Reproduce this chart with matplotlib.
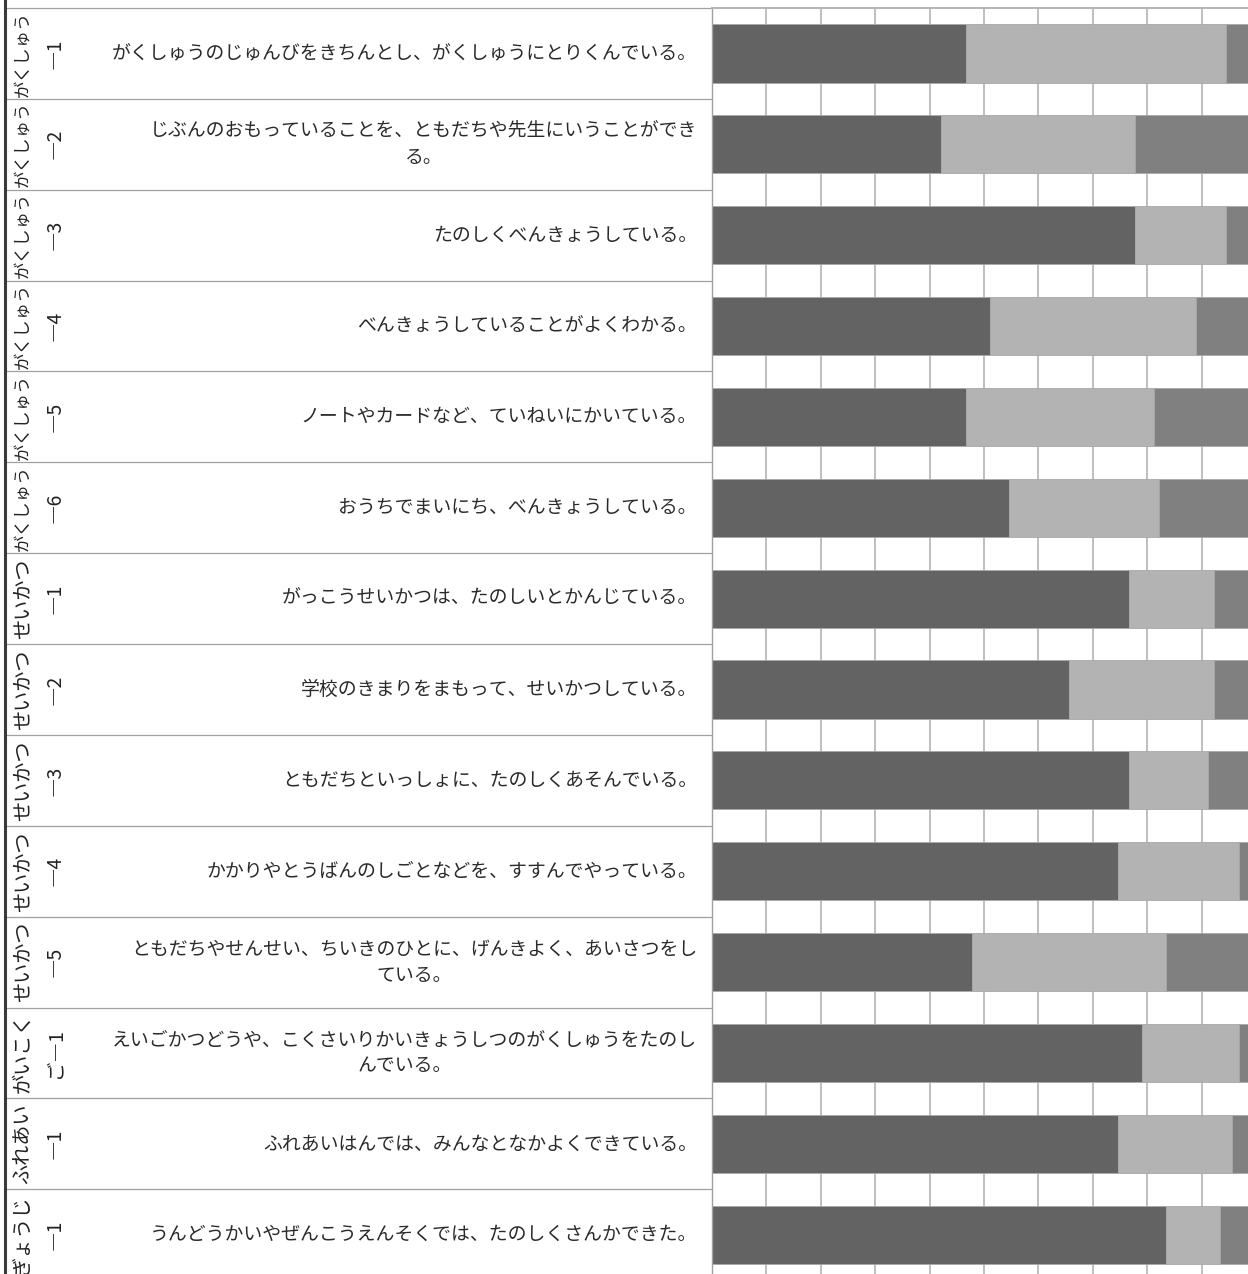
import matplotlib
matplotlib.use("Agg")
import matplotlib.pyplot as plt
import numpy as np

plt.rcParams['font.family'] = ['Noto Sans CJK JP', 'DejaVu Sans']

# ---- data (percent per answer level) ----
cat_names = ["がくしゅう"] * 6 + ["せいかつ"] * 5 + ["がいこく", "ふれあい", "ぎょうじ"]
item_nums = ["―1", "―2", "―3", "―4", "―5", "―6",
             "―1", "―2", "―3", "―4", "―5",
             "ご―1", "―1", "―1"]
questions = [
    "がくしゅうのじゅんびをきちんとし、がくしゅうにとりくんでいる。",
    "じぶんのおもっていることを、ともだちや先生にいうことができ\nる。",
    "たのしくべんきょうしている。",
    "べんきょうしていることがよくわかる。",
    "ノートやカードなど、ていねいにかいている。",
    "おうちでまいにち、べんきょうしている。",
    "がっこうせいかつは、たのしいとかんじている。",
    "学校のきまりをまもって、せいかつしている。",
    "ともだちといっしょに、たのしくあそんでいる。",
    "かかりやとうばんのしごとなどを、すすんでやっている。",
    "ともだちやせんせい、ちいきのひとに、げんきよく、あいさつをし\nている。",
    "えいごかつどうや、こくさいりかいきょうしつのがくしゅうをたのし\nんでいる。",
    "ふれあいはんでは、みんなとなかよくできている。",
    "うんどうかいやぜんこうえんそくでは、たのしくさんかできた。",
]
pct_a = [46.6, 42.1, 77.8, 51.1, 46.6, 54.5, 76.7, 65.6, 76.7, 74.6, 47.8, 79.0, 74.6, 83.4]
pct_b = [47.9, 35.7, 16.7, 37.8, 34.6, 27.7, 15.6, 26.7, 14.4, 22.2, 35.6, 17.8, 21.0, 10.0]
pct_c = [100 - a - b for a, b in zip(pct_a, pct_b)]

colors = ["#636363", "#b3b3b3", "#808080"]

W, H = 1248, 1274
n = len(questions)
row_h = 90.87
top_px = 8
bot_px = top_px + n * row_h
bottom = (H - bot_px) / H
height = (bot_px - top_px) / H
split = 712

fig = plt.figure(figsize=(W / 100, H / 100), dpi=100)

# ---- table part (labels + question text) ----
axt = fig.add_axes([0, bottom, split / W, height])
axt.set_xlim(0, split)
axt.set_ylim(n - 0.5, -0.5)
axt.axis("off")
for k in range(n + 1):
    axt.plot([5, split], [k - 0.5, k - 0.5], color="#a0a0a0", lw=0.9,
             solid_capstyle="butt", clip_on=False)
axt.plot([4.5, 4.5], [-0.6, n], color="#3a3a3a", lw=2.2, clip_on=False)

for i in range(n):
    # rotated label has to fit in one row (~88 px)
    fs = min(14.5, 86 / len(cat_names[i]) / 1.389)
    axt.text(23, i, cat_names[i], rotation=90, ha="center", va="center",
             fontsize=fs, color="#222222")
    axt.text(55, i, item_nums[i], rotation=90, ha="center", va="center",
             fontsize=14, color="#222222")
    axt.text(697, i, questions[i], ha="right", va="center", fontsize=13.6,
             color="#2a2a2a", multialignment="center", linespacing=1.3)

# ---- stacked bars ----
ax = fig.add_axes([split / W, bottom, 544.1 / W, height])
y = np.arange(n)
left = np.zeros(n)
for vals, c in zip([pct_a, pct_b, pct_c], colors):
    ax.barh(y, vals, left=left, height=0.64, color=c, edgecolor="#a8a8a8", lw=0.6)
    left += np.array(vals)
ax.set_xlim(0, 100)
ax.set_ylim(n - 0.5, -0.5)
ax.set_xticks(range(0, 101, 10))
ax.set_yticks([])
ax.tick_params(axis="x", length=0, labelbottom=False)
ax.grid(axis="x", color="#b4b4b4", lw=1.2)
ax.set_axisbelow(True)
for s in ["right", "bottom"]:
    ax.spines[s].set_visible(False)
ax.spines["left"].set_color("#a0a0a0")
ax.spines["left"].set_linewidth(1.0)
ax.spines["top"].set_color("#b4b4b4")
ax.spines["top"].set_linewidth(1.4)

fig.savefig("out.png", dpi=100)
